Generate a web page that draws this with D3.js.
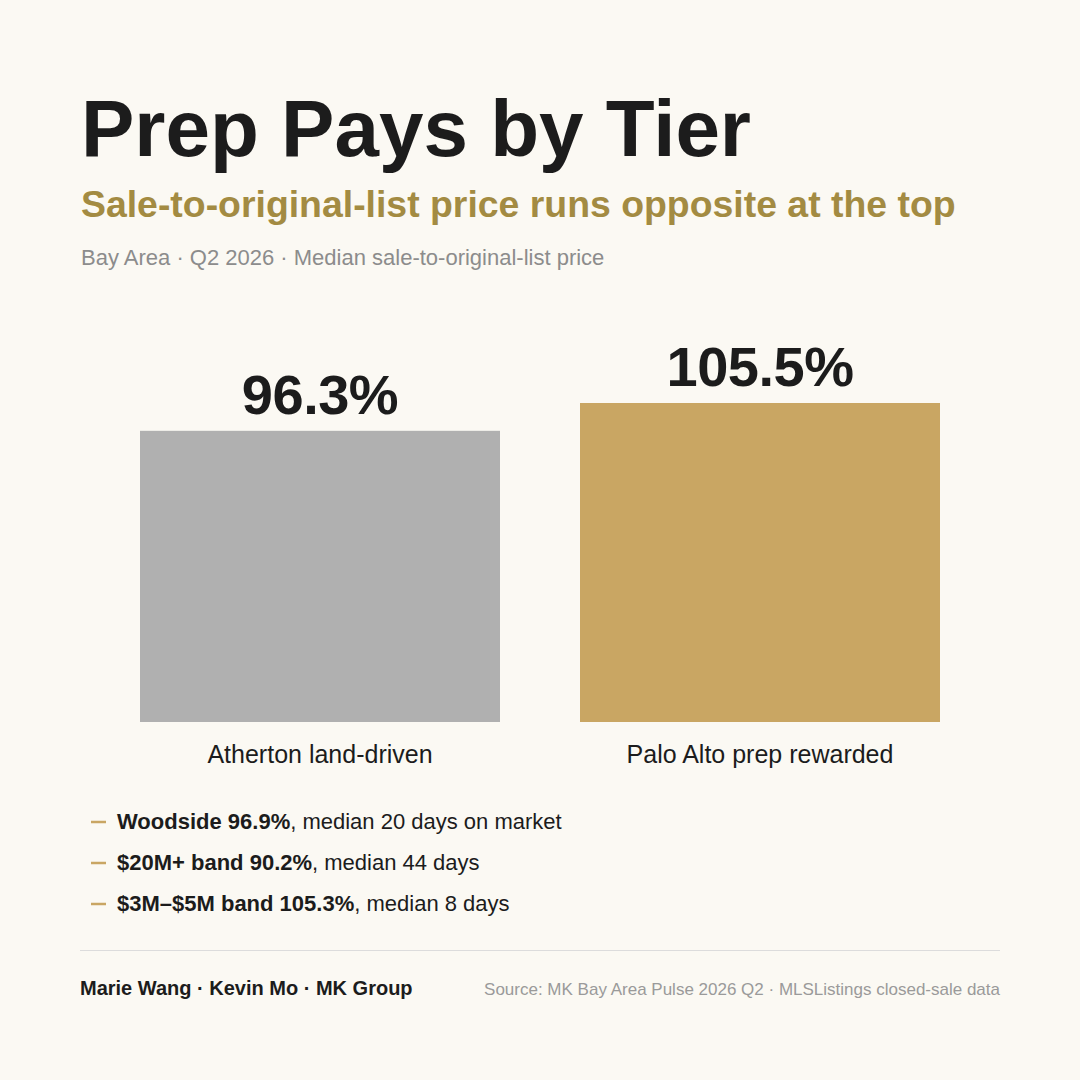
<!DOCTYPE html>
<html>
<head>
<meta charset="utf-8">
<script src="https://cdn.jsdelivr.net/npm/d3@7"></script>
<style>
  html, body { margin: 0; padding: 0; background: #fbf9f3; }
  svg { display: block; font-family: "Liberation Sans", Arial, Helvetica, sans-serif; }
</style>
</head>
<body>
<script>
// data
const categories = ['Atherton land-driven', 'Palo Alto prep rewarded'];
const values = [96.3, 105.5];
const barColors = ['#b0b0b0', '#c9a663'];
const notesBold = ['Woodside 96.9%', '$20M+ band 90.2%', '$3M\u2013$5M band 105.3%'];
const notesRest = [', median 20 days on market', ', median 44 days', ', median 8 days'];

const W = 1080, H = 1080;

const svg = d3.select('body').append('svg')
    .attr('width', W)
    .attr('height', H);

svg.append('rect')
    .attr('width', W)
    .attr('height', H)
    .attr('fill', '#fbf9f3');

// header
svg.append('text')
    .attr('x', 81)
    .attr('y', 156)
    .attr('font-size', 80)
    .attr('font-weight', 700)
    .attr('fill', '#1c1c1c')
    .text('Prep Pays by Tier');

svg.append('text')
    .attr('x', 81)
    .attr('y', 217)
    .attr('font-size', 37.4)
    .attr('font-weight', 700)
    .attr('fill', '#a38b42')
    .text('Sale-to-original-list price runs opposite at the top');

svg.append('text')
    .attr('x', 81)
    .attr('y', 265)
    .attr('font-size', 22)
    .attr('fill', '#8c8c8c')
    .text('Bay Area \u00b7 Q2 2026 \u00b7 Median sale-to-original-list price');

// bars
const x = d3.scaleBand()
    .domain(categories)
    .range([140, 940])
    .paddingInner(80 / 440)
    .paddingOuter(0);

const y = d3.scaleLinear()
    .domain([0, d3.max(values)])
    .range([722, 403]);

const bars = svg.append('g').attr('class', 'bars');

bars.selectAll('rect')
    .data(values)
    .enter()
    .append('rect')
    .attr('x', (d, i) => x(categories[i]))
    .attr('y', d => y(d))
    .attr('width', x.bandwidth())
    .attr('height', d => y(0) - y(d))
    .attr('fill', (d, i) => barColors[i]);

bars.selectAll('.value')
    .data(values)
    .enter()
    .append('text')
    .attr('class', 'value')
    .attr('x', (d, i) => x(categories[i]) + x.bandwidth() / 2)
    .attr('y', d => y(d) - 17)
    .attr('text-anchor', 'middle')
    .attr('font-size', 56)
    .attr('font-weight', 700)
    .attr('letter-spacing', -0.5)
    .attr('fill', '#1c1c1c')
    .text(d => d.toFixed(1) + '%');

// category axis labels
const xAxis = svg.append('g')
    .attr('transform', `translate(0, ${y(0)})`)
    .call(d3.axisBottom(x).tickSize(0).tickPadding(0));

xAxis.select('.domain').remove();
xAxis.selectAll('text')
    .attr('y', 41)
    .attr('dy', 0)
    .attr('font-family', '"Liberation Sans", Arial, sans-serif')
    .attr('font-size', 25)
    .attr('fill', '#1c1c1c');

// notes
const notes = svg.append('g').attr('class', 'notes');
const noteY = d3.scalePoint()
    .domain(d3.range(notesBold.length))
    .range([829, 911]);

notesBold.forEach((b, i) => {
    notes.append('line')
        .attr('x1', 91)
        .attr('x2', 106)
        .attr('y1', noteY(i) - 7)
        .attr('y2', noteY(i) - 7)
        .attr('stroke', '#c9a663')
        .attr('stroke-width', 2.5);
    const t = notes.append('text')
        .attr('x', 117)
        .attr('y', noteY(i))
        .attr('font-size', 22)
        .attr('fill', '#1c1c1c');
    t.append('tspan').attr('font-weight', 700).text(b);
    t.append('tspan').text(notesRest[i]);
});

// footer
svg.append('line')
    .attr('x1', 80)
    .attr('x2', 1000)
    .attr('y1', 950.5)
    .attr('y2', 950.5)
    .attr('stroke', '#dcdcdc')
    .attr('stroke-width', 1);

svg.append('text')
    .attr('x', 80)
    .attr('y', 995)
    .attr('font-size', 20)
    .attr('font-weight', 700)
    .attr('fill', '#1c1c1c')
    .text('Marie Wang \u00b7 Kevin Mo \u00b7 MK Group');

svg.append('text')
    .attr('x', 1000)
    .attr('y', 995)
    .attr('text-anchor', 'end')
    .attr('font-size', 17)
    .attr('fill', '#9a9a9a')
    .text('Source: MK Bay Area Pulse 2026 Q2 \u00b7 MLSListings closed-sale data');
</script>
</body>
</html>
